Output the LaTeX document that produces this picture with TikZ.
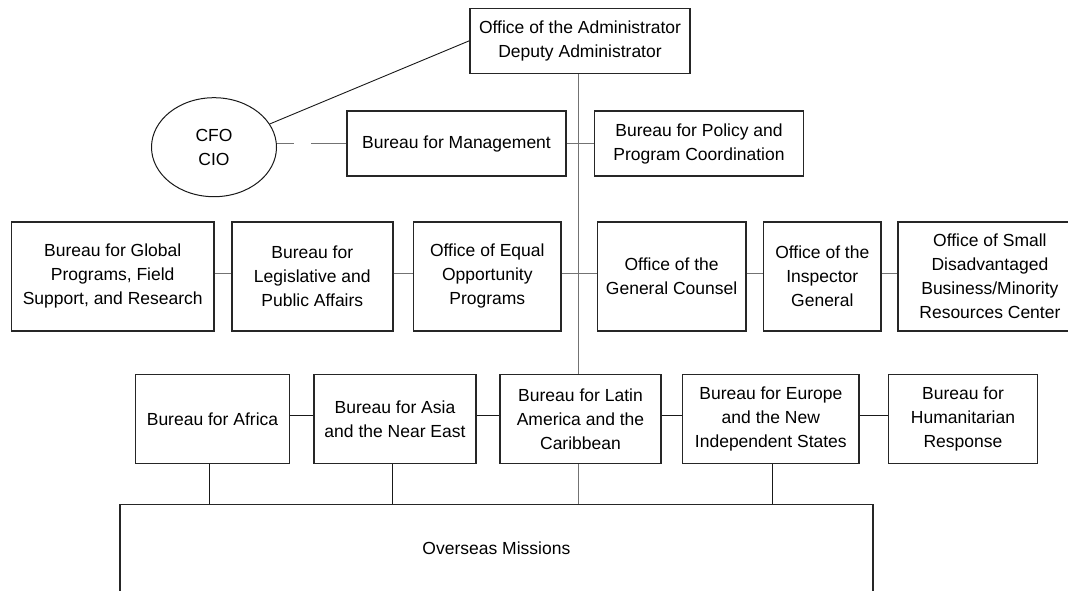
\documentclass[tikz,border=0pt]{standalone}
\usepackage{fontspec}
\setmainfont{Liberation Sans}
\usetikzlibrary{shapes.geometric}
\begin{document}
\begin{tikzpicture}[x=1pt,y=-1pt,
  font=\fontsize{17.5}{24}\selectfont,
  orgbox/.style={draw=black!85, line width=1.5pt, align=center, inner sep=0pt},
  trunkline/.style={draw=black!55, line width=1.6pt},
  linkline/.style={draw=black!90, line width=0.9pt},
  dottedlink/.style={draw=black!55, line width=1.5pt, dash pattern=on 17pt off 17pt on 40pt off 0pt}]
\useasboundingbox (0,0) rectangle (1068,590);
\clip (0,0) rectangle (1068,590);

% top of the organisation
\node[orgbox, minimum width=220pt, minimum height=65pt] (admin) at (580,40.8)
  {Office of the Administrator\\Deputy Administrator};
\node[draw=black!90, line width=1pt, ellipse, minimum width=125pt, minimum height=99pt, inner sep=0pt, align=center] (cfo) at (214,147.2)
  {CFO\\CIO};

% staff bureaus
\node[orgbox, minimum width=219pt, minimum height=65pt] (mgmt) at (456.5,143.5)
  {Bureau for Management};
\node[orgbox, minimum width=209pt, minimum height=65pt] (policy) at (699,143.5)
  {Bureau for Policy and\\Program Coordination};

% support offices
\node[orgbox, minimum width=202.5pt, minimum height=109pt] (global) at (112.75,276.4)
  {Bureau for Global\\Programs, Field\\Support, and Research};
\node[orgbox, minimum width=161pt, minimum height=109pt] (legis) at (312.3,276.4)
  {Bureau for\\Legislative and\\Public Affairs};
\node[orgbox, minimum width=147.3pt, minimum height=109pt] (equal) at (487.3,276.4)
  {Office of Equal\\Opportunity\\Programs};
\node[orgbox, minimum width=148.6pt, minimum height=109pt] (counsel) at (671.6,276.4)
  {Office of the\\General Counsel};
\node[orgbox, minimum width=117.7pt, minimum height=109pt] (inspector) at (822.3,276.4)
  {Office of the\\Inspector\\General};
\node[orgbox, minimum width=184pt, minimum height=109pt] (small) at (989.9,276.4)
  {Office of Small\\Disadvantaged\\Business/Minority\\Resources Center};

% regional bureaus
\node[orgbox, minimum width=153.6pt, minimum height=89pt] (africa) at (212.5,418.8)
  {Bureau for Africa};
\node[orgbox, minimum width=162pt, minimum height=89pt] (asia) at (395,418.8)
  {Bureau for Asia\\and the Near East};
\node[orgbox, minimum width=161pt, minimum height=89pt] (latin) at (580.5,418.8)
  {Bureau for Latin\\America and the\\Caribbean};
\node[orgbox, minimum width=176.3pt, minimum height=89pt] (europe) at (770.85,418.8)
  {Bureau for Europe\\and the New\\Independent States};
\node[orgbox, minimum width=149.4pt, minimum height=89pt] (human) at (963,418.8)
  {Bureau for\\Humanitarian\\Response};

% field level
\node[orgbox, minimum width=752.7pt, minimum height=88pt] (ovs) at (496.4,548.3)
  {Overseas Missions};

% vertical line of authority
\coordinate (tx) at (578.5,0);
\draw[trunkline] (admin.south -| tx) -- (latin.north -| tx);
\draw[trunkline] (latin.south -| tx) -- (ovs.north -| tx);

% staff and support links
\draw[linkline] (cfo) -- (admin.west);
\draw[dottedlink] (mgmt.west -| cfo.east) -- (mgmt.west);
\draw[trunkline] (mgmt.east) -- (policy.west);
\draw[trunkline] ([yshift=3pt]global.east) -- ([yshift=3pt]legis.west);
\draw[trunkline] ([yshift=3pt]legis.east) -- ([yshift=3pt]equal.west);
\draw[trunkline] ([yshift=3pt]equal.east) -- ([yshift=3pt]counsel.west);
\draw[trunkline] ([yshift=3pt]counsel.east) -- ([yshift=3pt]inspector.west);
\draw[trunkline] ([yshift=3pt]inspector.east) -- ([yshift=3pt]small.west);

% regional links
\draw[linkline] ([yshift=3.5pt]africa.east) -- ([yshift=3.5pt]asia.west);
\draw[linkline] ([yshift=3.5pt]asia.east) -- ([yshift=3.5pt]latin.west);
\draw[linkline] ([yshift=3.5pt]latin.east) -- ([yshift=3.5pt]europe.west);
\draw[linkline] ([yshift=3.5pt]europe.east) -- ([yshift=3.5pt]human.west);
\draw[linkline] ([xshift=-3pt]africa.south) -- ([xshift=-3pt]africa.south |- ovs.north);
\draw[linkline] ([xshift=-2.7pt]asia.south) -- ([xshift=-2.7pt]asia.south |- ovs.north);
\draw[linkline] ([xshift=1.5pt]europe.south) -- ([xshift=1.5pt]europe.south |- ovs.north);
\end{tikzpicture}
\end{document}
